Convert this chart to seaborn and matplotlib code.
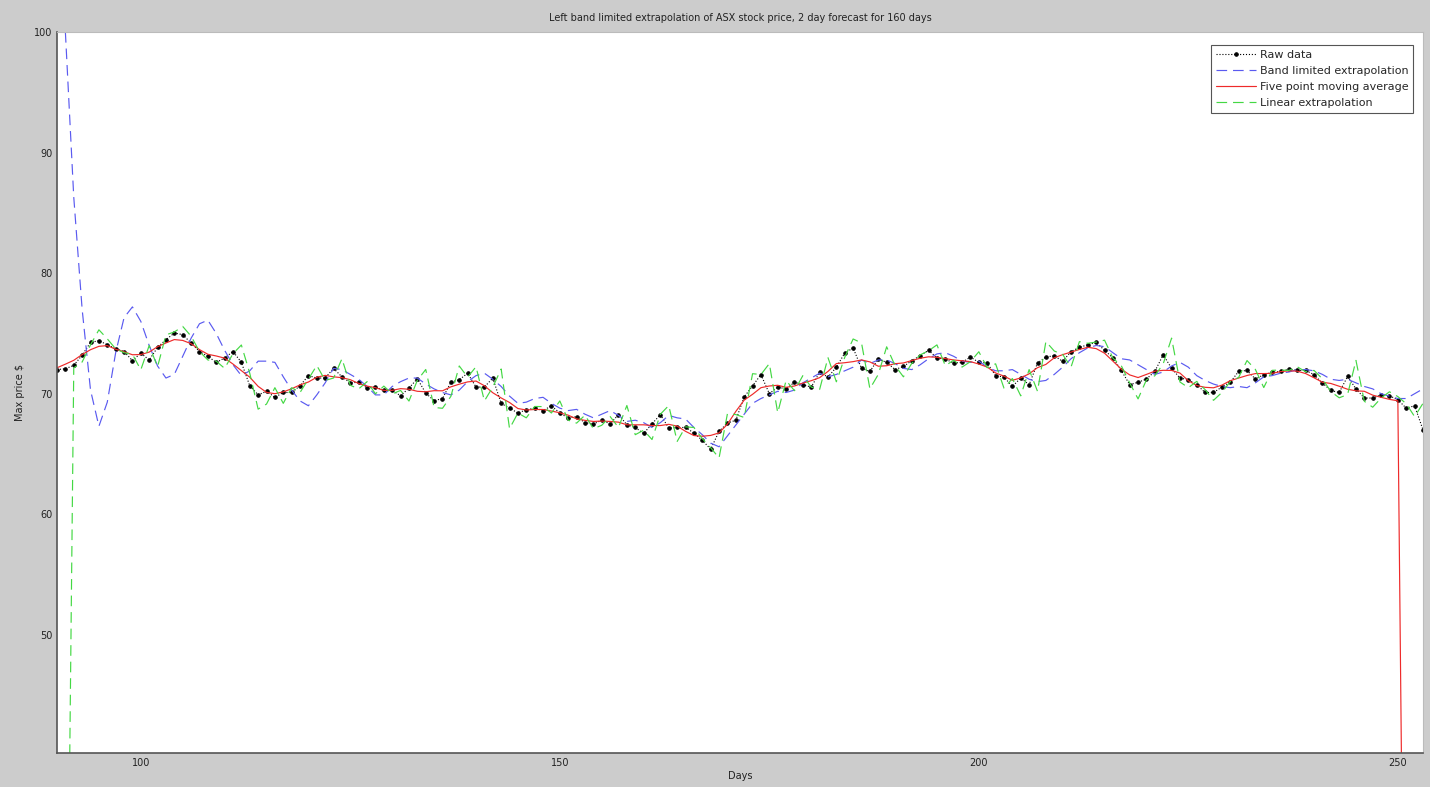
import numpy as np
import matplotlib
matplotlib.use("Agg")
import matplotlib.pyplot as plt
import seaborn as sns

# ---------------- data ----------------
raw_start, raw_end = 90, 253
raw = [72.00, 72.07, 72.35, 73.20, 74.25, 74.40, 74.06, 73.73, 73.50, 72.74,
       73.37, 72.80, 73.84, 74.48, 75.03, 74.90, 74.20, 73.50, 73.10, 72.60,
       72.96, 73.50, 72.60, 70.66, 69.90, 70.20, 69.70, 70.10, 70.10, 70.66,
       71.50, 71.30, 71.30, 72.10, 71.40, 70.90, 70.95, 70.47, 70.55, 70.27,
       70.27, 69.83, 70.47, 71.24, 70.05, 69.42, 69.60, 70.95, 71.16, 71.70,
       70.55, 70.55, 71.30, 69.20, 68.80, 68.40, 68.67, 68.80, 68.60, 69.00,
       68.40, 67.98, 68.10, 67.60, 67.49, 67.80, 67.50, 68.26, 67.43, 67.20,
       66.70, 67.50, 68.26, 67.15, 67.20, 67.20, 66.74, 66.13, 65.40, 66.87,
       67.57, 67.80, 69.73, 70.66, 71.58, 70.00, 70.55, 70.40, 70.95, 70.75,
       70.55, 71.77, 71.38, 72.20, 73.37, 73.79, 72.10, 71.85, 72.87, 72.60,
       72.00, 72.26, 72.74, 73.15, 73.60, 72.96, 72.87, 72.54, 72.60, 73.04,
       72.60, 72.54, 71.50, 71.38, 70.60, 71.30, 70.75, 72.54, 73.04, 73.15,
       72.68, 73.50, 73.84, 74.06, 74.25, 73.60, 72.96, 71.93, 70.75, 70.95,
       71.22, 71.85, 73.23, 72.10, 71.30, 71.16, 70.75, 70.10, 70.10, 70.55,
       70.95, 71.85, 71.93, 71.22, 71.58, 71.77, 71.85, 72.04, 71.93, 71.93,
       71.58, 70.88, 70.27, 70.10, 71.43, 70.40, 69.64, 69.64, 69.90, 69.83,
       69.50, 68.80, 69.00, 67.00]

band_start, band_end = 90, 253
band = [114.0, 100.0, 86.3, 77.0, 70.3, 67.3, 69.3, 73.4, 76.3, 77.2,
        76.0, 74.0, 72.3, 71.3, 71.6, 73.1, 74.6, 75.8, 76.1, 75.0,
        73.6, 72.4, 71.5, 71.9, 72.7, 72.7, 72.6, 71.4, 70.3, 69.4,
        69.0, 69.9, 70.9, 72.1, 72.0, 71.6, 71.2, 70.6, 69.9, 69.9,
        70.6, 71.0, 71.3, 71.3, 70.8, 70.4, 70.1, 69.9, 70.3, 71.0,
        71.5, 71.7, 71.2, 70.6, 69.8, 69.2, 69.3, 69.6, 69.7, 69.2,
        68.8, 68.6, 68.7, 68.3, 68.0, 68.3, 68.6, 68.2, 67.7, 67.8,
        67.6, 67.2, 67.6, 68.2, 68.0, 67.9, 67.2, 66.6, 65.9, 65.6,
        66.5, 67.4, 68.3, 69.2, 69.6, 69.9, 70.2, 70.1, 70.3, 70.9,
        71.3, 71.7, 71.4, 71.6, 71.9, 72.2, 72.8, 72.5, 72.8, 72.8,
        72.5, 72.1, 72.0, 72.4, 72.9, 73.3, 73.4, 73.1, 72.7, 72.6,
        72.7, 72.2, 71.9, 71.9, 72.0, 71.6, 71.2, 71.0, 71.1, 71.6,
        72.2, 72.9, 73.4, 73.8, 74.0, 73.9, 73.4, 72.9, 72.8, 72.4,
        72.0, 71.6, 71.8, 72.3, 72.6, 72.2, 71.5, 71.1, 70.8, 70.6,
        70.5, 70.6, 70.5, 70.9, 71.4, 71.5, 71.7, 71.8, 72.0, 72.0,
        71.9, 71.6, 71.2, 71.1, 71.2, 70.9, 70.6, 70.4, 70.0, 69.8,
        69.6, 69.6, 70.0, 70.4]

avg_start, avg_end = 90, 251
moving_avg = [72.15, 72.45, 72.77, 73.25, 73.65, 73.93, 73.99, 73.69, 73.48, 73.23,
              73.25, 73.45, 73.90, 74.21, 74.49, 74.42, 74.15, 73.66, 73.27, 73.13,
              72.95, 72.46, 71.92, 71.37, 70.61, 70.11, 70.00, 70.15, 70.41, 70.73,
              70.97, 71.37, 71.52, 71.40, 71.33, 71.16, 70.85, 70.63, 70.50, 70.28,
              70.28, 70.42, 70.37, 70.20, 70.16, 70.25, 70.24, 70.57, 70.79, 70.98,
              71.05, 70.66, 70.08, 69.65, 69.27, 68.77, 68.65, 68.69, 68.69, 68.56,
              68.42, 68.22, 67.91, 67.79, 67.70, 67.73, 67.70, 67.64, 67.42, 67.42,
              67.42, 67.36, 67.36, 67.46, 67.31, 66.88, 66.53, 66.47, 66.54, 66.75,
              67.47, 68.53, 69.47, 69.95, 70.50, 70.64, 70.70, 70.53, 70.64, 70.88,
              71.08, 71.33, 71.85, 72.50, 72.57, 72.66, 72.80, 72.64, 72.28, 72.32,
              72.49, 72.55, 72.75, 72.94, 73.06, 73.02, 72.91, 72.80, 72.73, 72.66,
              72.46, 72.21, 71.72, 71.46, 71.11, 71.31, 71.65, 72.16, 72.43, 72.98,
              73.24, 73.45, 73.67, 73.85, 73.74, 73.36, 72.70, 72.04, 71.56, 71.34,
              71.60, 71.87, 71.94, 71.93, 71.71, 71.08, 70.68, 70.53, 70.49, 70.71,
              71.08, 71.30, 71.51, 71.67, 71.67, 71.69, 71.83, 71.90, 71.87, 71.67,
              71.32, 70.95, 70.85, 70.62, 70.37, 70.24, 70.20, 69.88, 69.70, 69.53,
              69.41, 0.0]

lin_start, lin_end = 91, 253
linear = [5.0, 72.14, 72.63, 74.05, 75.30, 74.55, 73.72, 73.40, 73.27, 71.98,
          74.00, 72.23, 74.88, 75.12, 75.58, 74.77, 73.50, 72.80, 72.70, 72.10,
          73.32, 74.04, 71.70, 68.72, 69.14, 70.50, 69.20, 70.50, 70.10, 71.22,
          72.34, 71.10, 71.30, 72.90, 70.70, 70.40, 71.00, 69.99, 70.63, 69.99,
          70.27, 69.39, 71.11, 72.01, 68.86, 68.79, 69.78, 72.30, 71.37, 72.24,
          69.40, 70.55, 72.05, 67.10, 68.40, 68.00, 68.94, 68.93, 68.40, 69.40,
          67.80, 67.56, 68.22, 67.10, 67.38, 68.11, 67.20, 69.02, 66.60, 66.97,
          66.20, 68.30, 69.02, 66.04, 67.25, 67.20, 66.28, 65.52, 64.67, 68.34,
          68.27, 68.03, 71.66, 71.59, 72.50, 68.42, 71.10, 70.25, 71.50, 70.55,
          70.35, 72.99, 70.99, 73.02, 74.54, 74.21, 70.41, 71.60, 73.89, 72.33,
          71.40, 72.52, 73.22, 73.56, 74.05, 72.32, 72.78, 72.21, 72.66, 73.48,
          72.16, 72.48, 70.46, 71.26, 69.82, 72.00, 70.20, 74.33, 73.54, 73.26,
          72.21, 74.32, 74.18, 74.28, 74.44, 72.95, 72.32, 70.90, 69.57, 71.15,
          71.49, 72.48, 74.61, 70.97, 70.50, 71.02, 70.34, 69.45, 70.10, 71.00,
          71.35, 72.75, 72.01, 70.51, 71.94, 71.96, 71.93, 72.23, 71.82, 71.93,
          71.23, 70.18, 69.66, 69.93, 72.76, 69.37, 68.88, 69.64, 70.16, 69.76,
          69.17, 68.10, 69.20]

labels = ["Raw data", "Band limited extrapolation",
          "Five point moving average", "Linear extrapolation"]
x_ticks = [100, 150, 200, 250]
y_ticks = [50, 60, 70, 80, 90, 100]
title = "Left band limited extrapolation of ASX stock price, 2 day forecast for 160 days"

# ---------------- plot ----------------
sns.set_style("white")
plt.rcParams["font.family"] = ["DejaVu Sans"]

fig = plt.figure(figsize=(14.3, 7.87), dpi=100, facecolor="#cccccc")
ax = fig.add_axes([57 / 1430, 34 / 787, (1423 - 57) / 1430, (753 - 32) / 787])
ax.set_facecolor("white")

d_raw = np.arange(raw_start, raw_end + 1)
d_band = np.arange(band_start, band_end + 1)
d_avg = np.arange(avg_start, avg_end + 1)
d_lin = np.arange(lin_start, lin_end + 1)

sns.lineplot(x=d_raw, y=raw, ax=ax, color="black", linestyle=":",
             linewidth=0.8, marker=".", markersize=5, markeredgecolor="black",
             markerfacecolor="black", label=labels[0], sort=False)
sns.lineplot(x=d_band, y=band, ax=ax, color="#5a5af0", linewidth=0.85,
             linestyle=(0, (9, 5)), label=labels[1], sort=False)
sns.lineplot(x=d_avg, y=moving_avg, ax=ax, color="#ee2a2a", linewidth=0.85,
             label=labels[2], sort=False)
sns.lineplot(x=d_lin, y=linear, ax=ax, color="#44d844", linewidth=0.85,
             linestyle=(0, (9, 5)), label=labels[3], sort=False)

ax.set_xlim(90, 253)
ax.set_ylim(40.2, 100)
ax.set_xticks(x_ticks)
ax.set_yticks(y_ticks)
ax.tick_params(direction="in", length=5, width=0.8, labelsize=7,
               colors="#222222", top=False, right=False)
for side in ["left", "bottom"]:
    ax.spines[side].set_color("#555555")
    ax.spines[side].set_linewidth(1.2)
for side in ["top", "right"]:
    ax.spines[side].set_color("#bbbbbb")
    ax.spines[side].set_linewidth(0.8)

ax.set_title(title, fontsize=7, color="#222222", pad=8)
ax.set_xlabel("Days", fontsize=7, color="#222222", labelpad=2)
ax.set_ylabel("Max price $", fontsize=7, color="#222222", labelpad=6)

leg = ax.legend(loc="upper right", fontsize=8, frameon=True, fancybox=False,
                edgecolor="#555555", framealpha=1, borderpad=0.45,
                labelspacing=0.55, handlelength=3.6, handletextpad=0.3,
                bbox_to_anchor=(0.997, 0.99))
leg.get_frame().set_linewidth(0.8)

fig.savefig("out.png", dpi=100, facecolor=fig.get_facecolor())
